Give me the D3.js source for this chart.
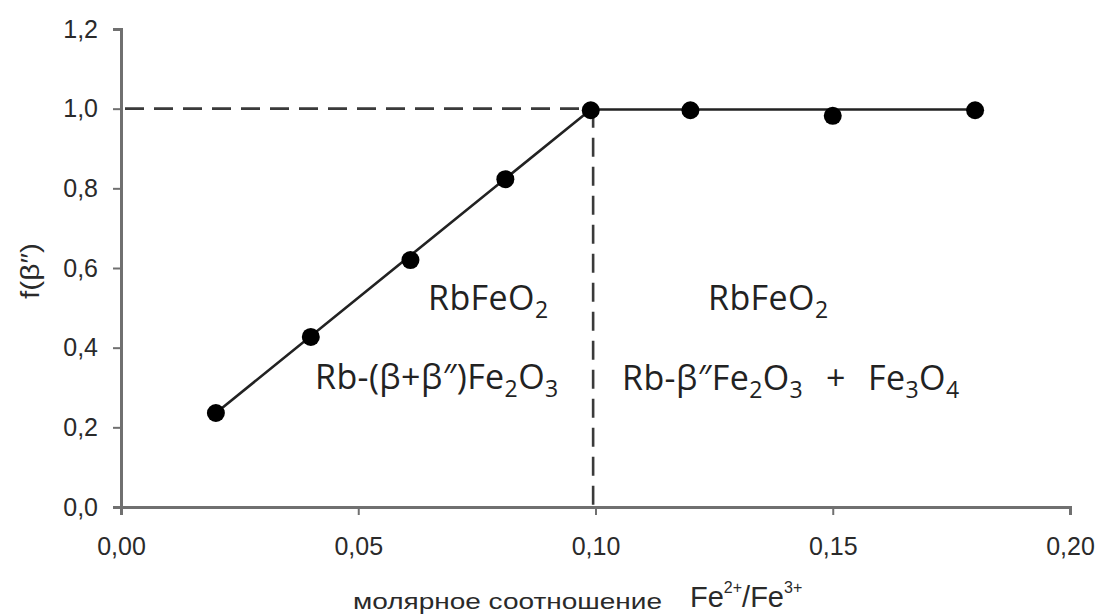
<!DOCTYPE html>
<html>
<head>
<meta charset="utf-8">
<script src="https://cdn.jsdelivr.net/npm/d3@7/dist/d3.min.js"></script>
<style>
  html, body { margin: 0; padding: 0; background: #fff; }
  svg { display: block; }
  .tick text { font-family: "Liberation Sans", Arial, sans-serif; font-size: 25px; fill: #2a2a2a; }
  .label { font-family: "Open Sans", "Noto Sans", sans-serif; font-size: 34px; letter-spacing: 0.4px; fill: #222; }
</style>
</head>
<body>
<svg id="chart" width="1102" height="615"></svg>
<script>
// Measured points: Fe2+/Fe3+ molar ratio vs f(β″)
const ratio = [0.02, 0.04, 0.061, 0.081, 0.099, 0.12, 0.15, 0.18];
const fraction = [0.236, 0.427, 0.620, 0.823, 0.996, 0.996, 0.982, 0.996];

// Trend line: linear rise to saturation, then plateau
const trendX = [0.02, 0.099, 0.18];
const trendY = [0.236, 0.998, 0.998];

const xTicks = [0.00, 0.05, 0.10, 0.15, 0.20];
const yTicks = [0.0, 0.2, 0.4, 0.6, 0.8, 1.0, 1.2];

// Phase boundary
const boundaryX = 0.0995;
const boundaryY = 1.0;

const svg = d3.select("#chart");
const x = d3.scaleLinear().domain([0, 0.20]).range([121, 1070]);
const y = d3.scaleLinear().domain([0, 1.2]).range([507, 29]);

const comma = s => s.replace(".", ",");
const fmtX = d => comma(d.toFixed(2));
const fmtY = d => comma(d.toFixed(1));

const axisColor = "#707070";

// Axes
const gx = svg.append("g").attr("transform", `translate(0,${y(0)})`)
  .call(d3.axisBottom(x).tickValues(xTicks).tickFormat(fmtX).tickSize(8).tickSizeOuter(8).tickPadding(22));
const gy = svg.append("g").attr("transform", `translate(${x(0)},0)`)
  .call(d3.axisLeft(y).tickValues(yTicks).tickFormat(fmtY).tickSize(8).tickSizeOuter(8).tickPadding(15));
[gx, gy].forEach(g => {
  g.select(".domain").attr("stroke", axisColor).attr("stroke-width", 3);
  g.selectAll(".tick line").attr("stroke", axisColor).attr("stroke-width", 2);
});

// Dashed guide lines marking the phase boundary
const guide = svg.append("g").attr("stroke", "#3a3a3a").attr("stroke-width", 2.6)
  .attr("stroke-dasharray", "19,10").attr("fill", "none");
guide.append("line").attr("x1", x(0) + 4).attr("x2", x(boundaryX))
  .attr("y1", y(boundaryY)).attr("y2", y(boundaryY));
guide.append("line").attr("x1", x(boundaryX)).attr("x2", x(boundaryX))
  .attr("y1", y(boundaryY)).attr("y2", y(0));

// Trend line
svg.append("path")
  .datum(trendX.map((d, i) => [d, trendY[i]]))
  .attr("fill", "none").attr("stroke", "#222").attr("stroke-width", 2.6)
  .attr("d", d3.line().x(d => x(d[0])).y(d => y(d[1])));

// Data points
svg.append("g").selectAll("circle")
  .data(ratio.map((d, i) => [d, fraction[i]]))
  .join("circle")
  .attr("cx", d => x(d[0])).attr("cy", d => y(d[1])).attr("r", 9)
  .attr("fill", "#000");

// Chemical formula text with subscripts
function formula(px, py, segs) {
  const t = svg.append("text").attr("class", "label").attr("x", px).attr("y", py);
  let shift = 0;
  segs.forEach(([txt, mode]) => {
    const s = t.append("tspan").text(txt);
    if (mode === "sub") { s.attr("dy", 8 - shift).attr("font-size", "23px"); shift = 8; }
    else { s.attr("dy", -shift); shift = 0; }
  });
  return t;
}

formula(428, 310, [["RbFeO", ""], ["2", "sub"]]);
formula(315, 389, [["Rb-(β+β″)Fe", ""], ["2", "sub"], ["O", ""], ["3", "sub"]]);
formula(708, 310, [["RbFeO", ""], ["2", "sub"]]);
formula(622, 390, [["Rb-β″Fe", ""], ["2", "sub"], ["O", ""], ["3", "sub"]]);
formula(826, 390, [["+", ""]]);
formula(868, 390, [["Fe", ""], ["3", "sub"], ["O", ""], ["4", "sub"]]);

// Axis titles
svg.append("text")
  .attr("transform", `translate(39,271) rotate(-90)`)
  .attr("text-anchor", "middle")
  .attr("textLength", 56).attr("lengthAdjust", "spacingAndGlyphs")
  .style("font-family", "Liberation Sans, Arial, sans-serif").style("font-size", "25px").style("fill", "#2a2a2a")
  .text("f(β″)");

svg.append("text").attr("x", 353).attr("y", 609)
  .attr("textLength", 309).attr("lengthAdjust", "spacingAndGlyphs")
  .style("font-family", "Liberation Sans, Arial, sans-serif").style("font-size", "22px").style("fill", "#2a2a2a")
  .text("молярное соотношение");

const xt = svg.append("text").attr("x", 690).attr("y", 607)
  .style("font-family", "Liberation Sans, Arial, sans-serif").style("fill", "#2a2a2a");
xt.append("tspan").style("font-size", "29px").text("Fe");
xt.append("tspan").attr("dy", -14).style("font-size", "16px").text("2+");
xt.append("tspan").attr("dy", 14).style("font-size", "29px").text("/Fe");
xt.append("tspan").attr("dy", -14).style("font-size", "16px").text("3+");
</script>
</body>
</html>
